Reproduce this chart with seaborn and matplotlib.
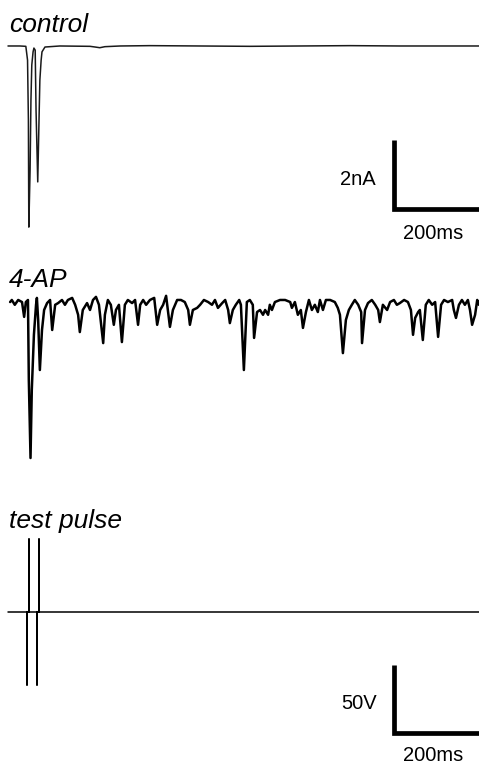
import pandas as pd
import seaborn as sns
import matplotlib.pyplot as plt

sns.set_theme(style='white')
plt.rcParams['font.family'] = ['Liberation Sans', 'DejaVu Sans']
plt.rcParams['text.color'] = 'black'

# control trace: time (ms), current (nA)
control_t = [0, 28, 42, 46, 48, 49, 52, 54, 56, 59, 61, 64, 66, 70, 73, 75, 78, 80, 87,
             122, 193, 205, 216, 228, 264, 334, 452, 569, 687, 805, 922, 1108]
control_i = [0, 0, -0.01, -0.41, -2.14, -5.25, -3.59, -1.57, -0.55, -0.17, -0.06, -0.12,
             -1.86, -3.94, -2.14, -0.99, -0.41, -0.17, -0.03,
             0, -0.01, -0.03, -0.05, -0.02, 0, 0.01, 0, -0.01, 0, 0.01, 0, 0]

# 4-AP trace: time (ms), current (nA)
ap_t = [5, 9, 16, 24, 33, 38, 42, 47, 49, 53, 56, 61, 66, 68, 71, 75, 80, 85, 92, 99,
        104, 111, 118, 127, 134, 141, 151, 158, 165, 169, 176, 186, 193, 200, 207, 214,
        224, 228, 235, 242, 249, 254, 261, 268, 275, 282, 292, 299, 306, 311, 318, 325,
        334, 344, 351, 358, 365, 372, 381, 388, 398, 407, 416, 424, 428, 435, 445, 452,
        461, 471, 480, 487, 494, 504, 511, 518, 522, 529, 536, 544, 548, 555, 562, 569,
        576, 579, 586, 593, 600, 605, 612, 616, 621, 628, 640, 652, 664, 668, 675, 682,
        689, 694, 701, 708, 715, 722, 729, 734, 741, 748, 758, 769, 776, 781, 788, 795,
        802, 809, 816, 824, 831, 833, 840, 847, 856, 864, 871, 875, 882, 892, 899, 908,
        915, 922, 932, 941, 948, 953, 958, 965, 969, 976, 983, 990, 998, 1005, 1012, 1019,
        1026, 1035, 1045, 1049, 1054, 1061, 1068, 1075, 1082, 1087, 1092, 1099, 1104, 1108]
ap_i = [-0.06, 0, -0.14, 0, -0.06, -0.49, -0.06, 0, -2.32, -4.58, -2.61, -1.01, -0.14,
        0.06, -0.58, -2.03, -0.87, -0.29, -0.09, 0,
        -0.87, -0.14, -0.09, 0, -0.14, 0, 0.06, -0.14, -0.43, -0.93, -0.29, -0.09, -0.29,
        0, 0.09, -0.14,
        -1.25, -0.43, 0, -0.14, -0.72, -0.29, -0.14, -1.22, -0.14, 0, -0.09, 0, -0.72,
        -0.14, 0, -0.14,
        0, 0.06, -0.72, -0.29, -0.14, 0.12, -0.78, -0.29, 0, 0, -0.06, -0.29, -0.72,
        -0.29, -0.23, -0.14,
        0, -0.06, -0.14, 0, -0.23, -0.09, 0, -0.29, -0.67, -0.29, -0.14, 0, -0.14,
        -2.03, -0.06, 0,
        -0.14, -1.10, -0.35, -0.29, -0.43, -0.29, -0.43, -0.14, -0.29, -0.06, 0, 0,
        -0.06, -0.23, -0.06, -0.43,
        -0.29, -0.81, -0.35, 0, -0.29, -0.14, -0.35, 0, -0.29, 0, 0, -0.06, -0.23,
        -0.43, -1.54, -0.58,
        -0.29, -0.14, 0, -0.14, -0.35, -1.25, -0.29, -0.09, 0, -0.14, -0.29, -0.64,
        -0.14, -0.29, -0.06, 0,
        -0.14, -0.09, 0, -0.06, -0.29, -1.01, -0.52, -0.35, -0.29, -1.16, -0.14, 0,
        -0.14, -0.06, -1.07, -0.14,
        0, -0.06, 0, -0.29, -0.52, -0.14, 0, -0.14, 0, -0.29, -0.72, -0.43, 0, -0.14]

# test pulse: time (ms), voltage (V)
pulse_t = [0, 45.9, 45.9, 45.9, 49.4, 49.4, 49.4, 68.2, 68.2, 68.2, 71.8, 71.8, 71.8, 1108]
pulse_v = [0, 0, -54, 0, 0, 54, 0, 0, -54, 0, 0, 54, 0, 0]

# scale bars
bar_ms = 200
bar_na = 2
bar_volt = 50

control = pd.DataFrame({'t': control_t, 'i': control_i})
ap = pd.DataFrame({'t': ap_t, 'i': ap_i})
pulse = pd.DataFrame({'t': pulse_t, 'v': pulse_v})

fig = plt.figure(figsize=(4.79, 7.65), dpi=100)
xlim = (-18.8, 1108.2)

ax1 = fig.add_axes([0, 0.6667, 1, 0.3333])
ax2 = fig.add_axes([0, 0.3464, 1, 0.3203])
ax3 = fig.add_axes([0, 0, 1, 0.3464])

sns.lineplot(data=control, x='t', y='i', ax=ax1, color='#1a1a1a', lw=1.1,
             estimator=None, sort=False)
sns.lineplot(data=ap, x='t', y='i', ax=ax2, color='black', lw=1.8,
             estimator=None, sort=False)
sns.lineplot(data=pulse, x='t', y='v', ax=ax3, color='black', lw=1.1,
             estimator=None, sort=False)

ax1.set_ylim(-6.058, 1.333)
ax2.set_ylim(-5.797, 1.304)
ax3.set_ylim(-112.5, 82.35)
for ax in (ax1, ax2, ax3):
    ax.set_xlim(*xlim)
    ax.set_axis_off()

bar_x0 = 1108 - bar_ms
# current scale bar
y0 = -2.725
ax1.plot([bar_x0, bar_x0, bar_x0 + bar_ms], [y0, y0 - bar_na, y0 - bar_na],
         color='black', lw=3.4, solid_joinstyle='miter', solid_capstyle='butt')
ax1.text(865, y0 - bar_na / 2 - 0.15, '2nA', ha='right', va='center', fontsize=14.5)
ax1.text(1000, -5.43, '200ms', ha='center', va='center', fontsize=14.5)

# voltage scale bar
v0 = -38.97
ax3.plot([bar_x0, bar_x0, bar_x0 + bar_ms], [v0, v0 - bar_volt, v0 - bar_volt],
         color='black', lw=3.4, solid_joinstyle='miter', solid_capstyle='butt')
ax3.text(868, -67.6, '50V', ha='right', va='center', fontsize=14.5)
ax3.text(1000, -105.5, '200ms', ha='center', va='center', fontsize=14.5)

# panel titles
ax1.text(3, 0.406, 'control', style='italic', fontsize=19, va='baseline')
ax2.text(3, 0.377, '4-AP', style='italic', fontsize=19, va='baseline')
ax3.text(3, 61.8, 'test pulse', style='italic', fontsize=19, va='baseline')

fig.savefig('out.png', dpi=100, facecolor='white')
